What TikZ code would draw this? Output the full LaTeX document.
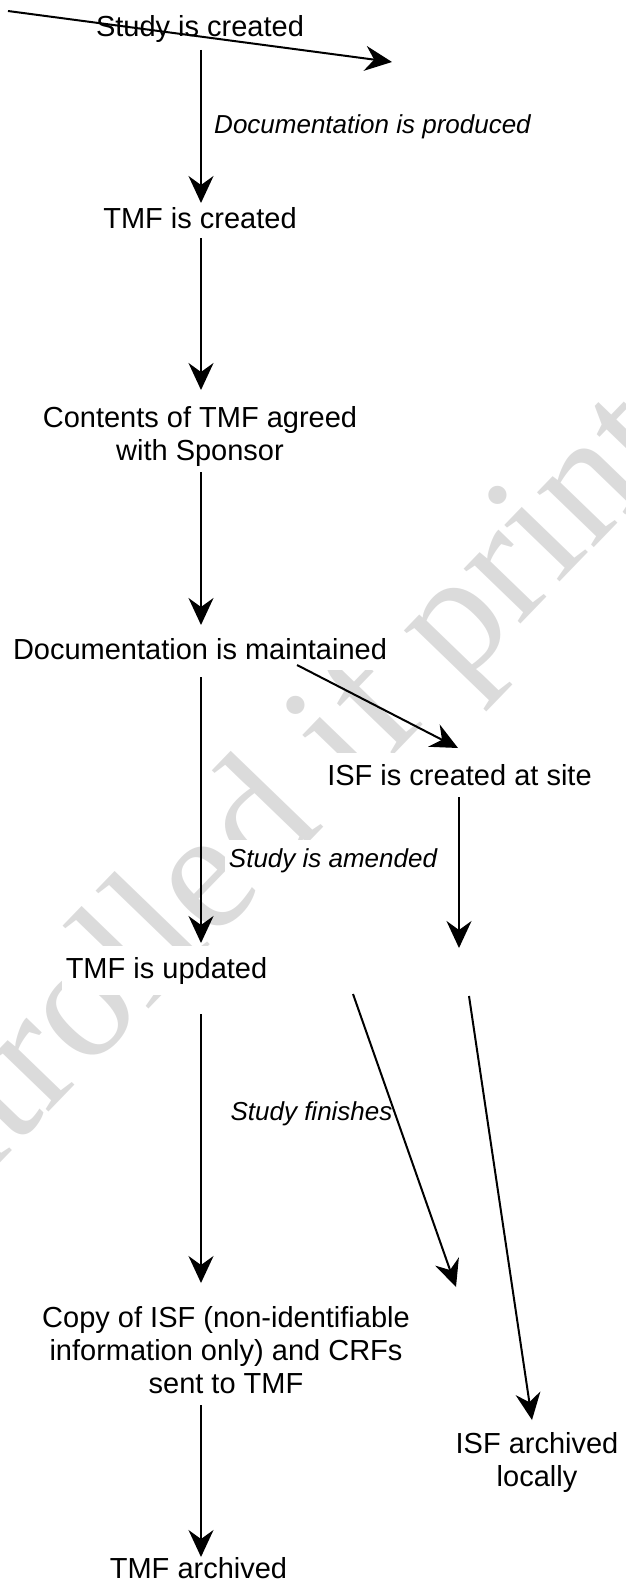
\documentclass[tikz,border=0pt]{standalone}
\usepackage{fontspec}
\setmainfont{Liberation Sans}
\newfontfamily\markfont{Liberation Serif}
\usetikzlibrary{arrows.meta,calc}
\definecolor{markgray}{gray}{0.86}
\newcommand{\lines}[1]{\begin{tabular}[t]{@{}c@{}}#1\end{tabular}}
\begin{document}
\begin{tikzpicture}[x=1pt,y=-1pt,
  stage/.style={font=\fontsize{29}{33}\selectfont, fill=white,
                inner xsep=4pt, inner ysep=11pt, anchor=base},
  note/.style={font=\fontsize{26}{30}\selectfont\itshape, fill=white,
               inner xsep=4pt, inner ysep=8pt, anchor=base},
  flow/.style={line width=2pt, -{Stealth[length=27pt,width=25pt,inset=9pt]}},
  wmark/.style={rotate=46, text=markgray, inner sep=0pt, anchor=base,
                font=\markfont\fontsize{172}{172}\selectfont}]
\useasboundingbox (0,0) rectangle (625,1584);

% background watermark
\node[wmark] (wm) at (246,908) {Uncontrolled if printed};

% process stages
\node[stage] (A) at (200,37) {Study is created};
\node[stage] (B) at (200,228) {TMF is created};
\node[stage] (C) at (200,427) {\lines{Contents of TMF agreed\\ with Sponsor}};
\node[stage] (D) at (200,659) {Documentation is maintained};
\node[stage] (E) at (459.5,785) {ISF is created at site};
\node[stage] (F) at (166.5,978) {TMF is updated};
\node[stage] (G) at (226,1327) {\lines{Copy of ISF (non-identifiable\\ information only) and CRFs\\ sent to TMF}};
\node[stage] (H) at (537,1453) {\lines{ISF archived\\ locally}};
\node[stage] (I) at (198.5,1578) {TMF archived};

% event labels
\node[note] (n1) at (372.5,133) {Documentation is produced};
\node[note] (n2) at (333,867) {Study is amended};
\node[note] (n3) at (311.5,1120) {Study finishes};

% anchor points for the connectors
\coordinate (trunk) at (201,0);
\coordinate (s0) at (8,11);
\coordinate (s1) at (392,62);
\coordinate (e1) at (459,948);
\coordinate (f0) at (353,994);
\coordinate (f1) at (456,1287);
\coordinate (g0) at (469,996);

% connectors
\draw[flow] (s0) -- (s1);
\draw[flow] ($(A.base -| trunk)+(0,13)$) -- ($(B.base -| trunk)+(0,-25)$);
\draw[flow] ($(B.base -| trunk)+(0,10)$) -- ($(C.base -| trunk)+(0,-37)$);
\draw[flow] ($(C.base -| trunk)+(0,45)$) -- ($(D.base -| trunk)+(0,-34)$);
\draw[flow] ($(D.base -| trunk)+(0,18)$) -- ($(F.base -| trunk)+(0,-35)$);
\draw[flow] ($(D.base)+(97,6)$) -- ($(E.base)+(-1.5,-37)$);
\draw[flow] ($(E.base)+(-0.5,12)$) -- (e1);
\draw[flow] ($(F.base -| trunk)+(0,36)$) -- ($(G.base -| trunk)+(0,-44)$);
\draw[flow] ($(G.base -| trunk)+(0,78)$) -- ($(I.base -| trunk)+(0,-21)$);
\draw[flow] (f0) -- (f1);
\draw[flow] (g0) -- ($(H.base)+(-5,-33)$);
\end{tikzpicture}
\end{document}
